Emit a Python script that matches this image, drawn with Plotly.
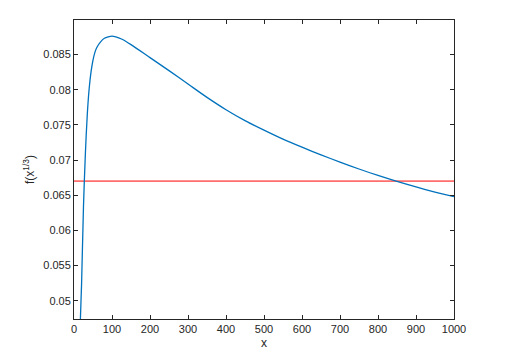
import plotly.graph_objects as go

# values
x_vals = [16, 20, 25, 30, 35, 40, 45, 50, 55, 60, 70, 80, 90, 100, 110, 125, 150,
          200, 250, 300, 350, 400, 450, 500, 550, 600, 650, 700, 750, 800, 850,
          900, 950, 1000]
y_vals = [0.0460, 0.0525, 0.0635, 0.0710, 0.0765, 0.0802, 0.0826, 0.0842, 0.0853,
          0.0860, 0.0868, 0.0873, 0.0875, 0.0876, 0.0875, 0.0872, 0.0864,
          0.08455, 0.0827, 0.0808, 0.0789, 0.07715, 0.0756, 0.07425, 0.07297, 0.07182,
          0.07073, 0.0697, 0.06872, 0.0678, 0.06695, 0.06617, 0.06545, 0.0648]
ref_x = [0, 1000]
ref_y = [0.067, 0.067]

x_ticks = list(range(0, 1001, 100))
y_ticks = [0.05, 0.055, 0.06, 0.065, 0.07, 0.075, 0.08, 0.085]
y_labels = ['0.05', '0.055', '0.06', '0.065', '0.07', '0.075', '0.08', '0.085']

font_name = 'Liberation Sans, Arial, sans-serif'

fig = go.Figure()

fig.add_trace(go.Scatter(
    x=ref_x, y=ref_y, mode='lines',
    line=dict(color='rgba(255,60,60,0.75)', width=1.8),
    showlegend=False
))

fig.add_trace(go.Scatter(
    x=x_vals, y=y_vals, mode='lines',
    line=dict(color='#0072BD', width=1.3, shape='spline', smoothing=0.8),
    showlegend=False
))

axis_style = dict(
    showgrid=False, zeroline=False,
    showline=True, linecolor='#262626', linewidth=1,
    mirror='ticks', ticks='inside', ticklen=4, tickcolor='#262626',
    tickfont=dict(family=font_name, size=11, color='#262626'),
    automargin=False,
)

fig.update_xaxes(
    range=[0, 1000], tickvals=x_ticks,
    title=dict(text='x', standoff=4, font=dict(family=font_name, size=12, color='#262626')),
    **axis_style
)
fig.update_yaxes(
    range=[0.0474, 0.0899], tickvals=y_ticks, ticktext=y_labels,
    title=dict(text='f(x<sup>1/3</sup>)', standoff=6,
               font=dict(family=font_name, size=12, color='#262626')),
    **axis_style
)

# page body has an 8px margin, so the figure is shrunk to fit the window
fig.update_layout(
    width=505, height=354,
    margin=dict(l=66, r=59, t=12, b=43),
    paper_bgcolor='white', plot_bgcolor='white'
)

fig.write_html("out.html")
